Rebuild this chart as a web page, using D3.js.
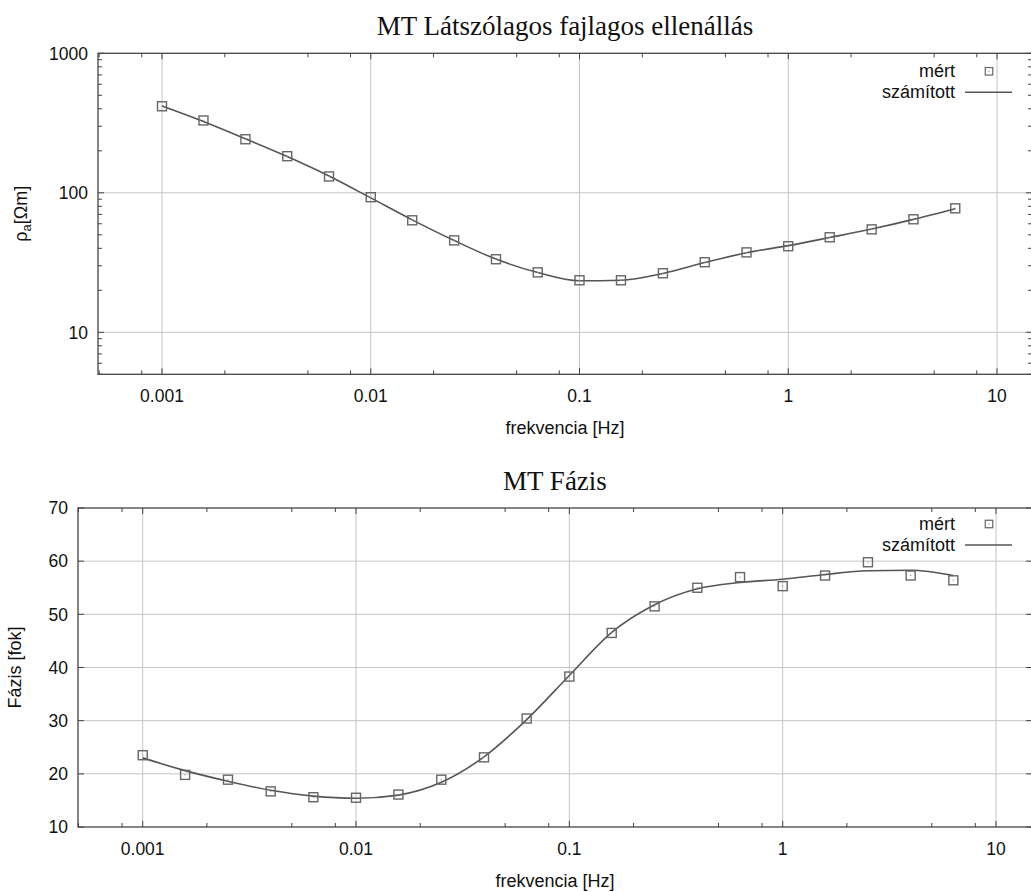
<!DOCTYPE html>
<html>
<head>
<meta charset="utf-8">
<script src="https://cdn.jsdelivr.net/npm/d3@7/dist/d3.min.js"></script>
<style>
  html, body { margin: 0; padding: 0; background: #fff; }
  svg { display: block; }
  text { font-family: "Liberation Sans", Arial, sans-serif; fill: #111; }
  .title { font-family: "Liberation Serif", "Times New Roman", serif; }
</style>
</head>
<body>
<svg id="chart" width="1031" height="892"></svg>
<script>
// ---- data ----
const frequencies = [0.001, 0.00158, 0.00251, 0.00398, 0.00631, 0.01, 0.0158, 0.0251, 0.0398, 0.0631,
                     0.1, 0.158, 0.251, 0.398, 0.631, 1, 1.58, 2.51, 3.98, 6.31];
const rhoMeasured = [417, 330, 242, 183, 131, 93, 63.5, 45.6, 33.4, 26.9,
                     23.6, 23.6, 26.5, 31.8, 37.4, 41.4, 48, 54.7, 64.6, 77.4];
const rhoComputed = [420, 325, 244, 182, 132, 92, 64, 45.5, 33.5, 26.8,
                     23.4, 23.6, 26.4, 31.6, 37.2, 41.8, 47.8, 55, 64.5, 77];
const phaseMeasured = [23.5, 19.8, 18.9, 16.7, 15.6, 15.5, 16.1, 18.9, 23.1, 30.4,
                       38.3, 46.5, 51.5, 55.0, 57.0, 55.3, 57.3, 59.8, 57.3, 56.4];
const phaseComputed = [23.0, 20.6, 18.6, 16.9, 15.8, 15.4, 16.0, 18.4, 23.2, 30.2,
                       38.5, 46.6, 51.8, 54.8, 56.0, 56.6, 57.5, 58.2, 58.3, 57.3];
const xTickValues = [0.001, 0.01, 0.1, 1, 10];
const xTickLabels = ["0.001", "0.01", "0.1", "1", "10"];
const rhoTickValues = [10, 100, 1000];
const rhoTickLabels = ["10", "100", "1000"];
const phaseTickValues = [10, 20, 30, 40, 50, 60, 70];
const phaseTickLabels = ["10", "20", "30", "40", "50", "60", "70"];
const titles = ["MT Látszólagos fajlagos ellenállás", "MT Fázis"];
const xLabel = "frekvencia [Hz]";
const legendLabels = ["mért", "számított"];

const svg = d3.select("#chart");
const BORDER = "#444", GRID = "#c4c4c4", LINE = "#555", MARK = "#666";

function drawPanel(p) {
  const g = svg.append("g");
  const x = d3.scaleLog().domain([0.001, 10]).range([p.x001, p.x10]);
  const y = p.y;
  const xMin = x.invert(p.left), xMax = x.invert(p.right);
  const clipId = "clip" + p.id;
  svg.append("clipPath").attr("id", clipId).append("rect")
    .attr("x", p.left).attr("y", p.top).attr("width", p.right - p.left).attr("height", p.bottom - p.top);

  // grid
  g.selectAll(".vg").data(xTickValues).join("line")
    .attr("x1", d => x(d)).attr("x2", d => x(d)).attr("y1", p.top).attr("y2", p.bottom)
    .attr("stroke", GRID).attr("stroke-width", 1);
  g.selectAll(".hg").data(p.yGrid).join("line")
    .attr("x1", p.left).attr("x2", p.right).attr("y1", d => y(d)).attr("y2", d => y(d))
    .attr("stroke", GRID).attr("stroke-width", 1);

  // x ticks (major + minor at 2,5,8), bottom and top
  const minorX = [];
  for (let e = -4; e <= 1; e++) [2, 5, 8].forEach(m => {
    const v = m * Math.pow(10, e);
    if (v > xMin && v < xMax) minorX.push(v);
  });
  const xt = xTickValues.map(v => ({v, len: 6})).concat(minorX.map(v => ({v, len: 4})));
  g.selectAll(".xtb").data(xt).join("line")
    .attr("x1", d => x(d.v)).attr("x2", d => x(d.v)).attr("y1", p.bottom).attr("y2", d => p.bottom - d.len)
    .attr("stroke", BORDER).attr("stroke-width", 1);
  g.selectAll(".xtt").data(xt).join("line")
    .attr("x1", d => x(d.v)).attr("x2", d => x(d.v)).attr("y1", p.top).attr("y2", d => p.top + d.len)
    .attr("stroke", BORDER).attr("stroke-width", 1);

  // y ticks left/right
  const yt = p.yTicks.map(v => ({v, len: 6})).concat(p.yMinor.map(v => ({v, len: 4})));
  g.selectAll(".ytl").data(yt).join("line")
    .attr("x1", p.left).attr("x2", d => p.left + d.len).attr("y1", d => y(d.v)).attr("y2", d => y(d.v))
    .attr("stroke", BORDER).attr("stroke-width", 1);
  g.selectAll(".ytr").data(yt).join("line")
    .attr("x1", p.right).attr("x2", d => p.right - d.len).attr("y1", d => y(d.v)).attr("y2", d => y(d.v))
    .attr("stroke", BORDER).attr("stroke-width", 1);

  // border
  g.append("rect").attr("x", p.left).attr("y", p.top)
    .attr("width", p.right - p.left).attr("height", p.bottom - p.top)
    .attr("fill", "none").attr("stroke", BORDER).attr("stroke-width", 1.3);

  // labels
  g.selectAll(".xl").data(xTickValues).join("text")
    .attr("x", d => x(d)).attr("y", p.bottom + 27.5).attr("text-anchor", "middle")
    .style("font-size", "17.5px").text((d, i) => xTickLabels[i]);
  g.selectAll(".yl").data(p.yTicks).join("text")
    .attr("x", p.left - 10).attr("y", d => y(d) + 6.3).attr("text-anchor", "end")
    .style("font-size", "17.5px").text((d, i) => p.yTickLabels[i]);

  g.append("text").attr("class", "title").attr("x", (p.left + p.right) / 2).attr("y", p.top - 18)
    .attr("text-anchor", "middle").style("font-size", "27px").text(p.title);
  g.append("text").attr("x", (p.left + p.right) / 2).attr("y", p.bottom + 60)
    .attr("text-anchor", "middle").style("font-size", "18px").text(xLabel);

  const yl = g.append("text")
    .attr("transform", `translate(${p.yLabelX},${(p.top + p.bottom) / 2}) rotate(-90)`)
    .attr("text-anchor", "middle").style("font-size", "18px");
  p.yLabel(yl);

  // curve
  const pts = frequencies.map((f, i) => [x(f), y(p.computed[i])]);
  g.append("path").attr("clip-path", `url(#${clipId})`)
    .attr("d", d3.line().curve(d3.curveMonotoneX)(pts))
    .attr("fill", "none").attr("stroke", LINE).attr("stroke-width", 1.6);

  // markers
  const s = 9;
  const mg = g.selectAll(".pt").data(frequencies.map((f, i) => [f, p.measured[i]])).join("g")
    .attr("transform", d => `translate(${x(d[0])},${y(d[1])})`);
  mg.append("rect").attr("x", -s / 2).attr("y", -s / 2).attr("width", s).attr("height", s)
    .attr("fill", "none").attr("stroke", MARK).attr("stroke-width", 1.4);
  mg.append("rect").attr("x", -0.6).attr("y", -0.6).attr("width", 1.2).attr("height", 1.2)
    .attr("fill", "#999");

  // legend
  const lx = p.right - 77, ly = p.top + p.legendDy;
  g.append("text").attr("x", lx).attr("y", ly).attr("text-anchor", "end")
    .style("font-size", "18px").text(legendLabels[0]);
  g.append("text").attr("x", lx).attr("y", ly + 21).attr("text-anchor", "end")
    .style("font-size", "18px").text(legendLabels[1]);
  const ls = 7.5;
  g.append("rect").attr("x", lx + 34 - ls / 2).attr("y", ly - 6 - ls / 2).attr("width", ls).attr("height", ls)
    .attr("fill", "none").attr("stroke", MARK).attr("stroke-width", 1.2);
  g.append("rect").attr("x", lx + 34 - 0.6).attr("y", ly - 6 - 0.6).attr("width", 1.2).attr("height", 1.2).attr("fill", "#999");
  g.append("line").attr("x1", lx + 10).attr("x2", lx + 57).attr("y1", ly + 15).attr("y2", ly + 15)
    .attr("stroke", LINE).attr("stroke-width", 1.4);
}

// top panel
const rhoMinor = [];
[1, 10, 100].forEach(d => { for (let m = 2; m <= 9; m++) if (m * d >= 5) rhoMinor.push(m * d); });
drawPanel({
  id: 1, left: 98, right: 1032, top: 53.3, bottom: 374.3, x001: 162, x10: 997,
  y: d3.scaleLog().domain([5, 1000]).range([374.3, 53.3]),
  yTicks: rhoTickValues, yTickLabels: rhoTickLabels, yMinor: rhoMinor, yGrid: [10, 100],
  title: titles[0], measured: rhoMeasured, computed: rhoComputed, yLabelX: 27, legendDy: 24,
  yLabel: t => {
    t.append("tspan").text("ρ");
    t.append("tspan").attr("dy", 4).style("font-size", "13px").text("a");
    t.append("tspan").attr("dy", -4).text("[Ωm]");
  }
});

// bottom panel
drawPanel({
  id: 2, left: 78, right: 1032, top: 508, bottom: 827, x001: 142.7, x10: 996,
  y: d3.scaleLinear().domain([10, 70]).range([827, 508]),
  yTicks: phaseTickValues, yTickLabels: phaseTickLabels, yMinor: [], yGrid: [20, 30, 40, 50, 60],
  title: titles[1], measured: phaseMeasured, computed: phaseComputed, yLabelX: 21, legendDy: 22,
  yLabel: t => t.text("Fázis [fok]")
});
</script>
</body>
</html>
